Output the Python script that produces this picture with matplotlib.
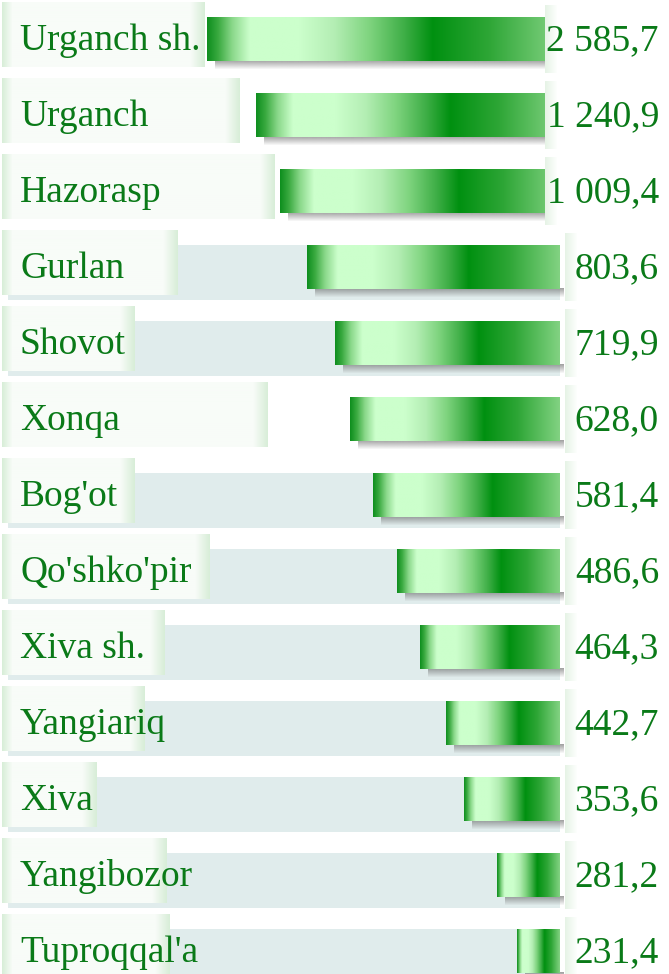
import numpy as np
import matplotlib.pyplot as plt
from matplotlib.colors import LinearSegmentedColormap, to_rgb

# data
districts = ["Urganch sh.", "Urganch", "Hazorasp", "Gurlan", "Shovot", "Xonqa", "Bog'ot",
             "Qo'shko'pir", "Xiva sh.", "Yangiariq", "Xiva", "Yangibozor", "Tuproqqal'a"]
values = [2585.7, 1240.9, 1009.4, 803.6, 719.9, 628.0, 581.4,
          486.6, 464.3, 442.7, 353.6, 281.2, 231.4]
# drawn bar lengths (infographic is not to scale)
bar_len = [353, 304, 280, 253, 225, 210, 187, 163, 140, 114, 96, 63, 43]
has_strip = [False, False, False, True, True, False, True, True, True, True, True, True, True]

# layout (pixel-like units)
W, H = 669, 974
row_top0, row_step = 17, 76
bar_h = 44
bar_right = 560
label_box_right = [205, 240, 275, 178, 135, 268, 135, 210, 165, 145, 97, 167, 170]

TXT = "#0a7a18"
STRIP = "#e0ecec"

grad = LinearSegmentedColormap.from_list("bar", [
    (0.00, "#0f8f1f"), (0.03, "#3aaa40"), (0.07, "#8ad88a"), (0.12, "#ccffcc"),
    (0.26, "#ccffcc"), (0.36, "#b4eeb4"), (0.46, "#7fd47f"), (0.56, "#3eae46"),
    (0.64, "#009010"), (0.80, "#2ea636"), (1.00, "#82d282")])

fig = plt.figure(figsize=(W / 100, H / 100), dpi=100)
ax = fig.add_axes([0, 0, 1, 1])
ax.set_xlim(0, W)
ax.set_ylim(H, 0)
ax.axis("off")


def soft_box(x0, x1, y0, y1, fill, edge, el=10, er=14, z=2):
    n = max(int(x1 - x0), 2)
    xs = np.arange(n)
    t = np.ones(n)
    t = np.minimum(t, np.clip(xs / el, 0, 1))
    t = np.minimum(t, np.clip((n - 1 - xs) / er, 0, 1))
    f, e = np.array(to_rgb(fill)), np.array(to_rgb(edge))
    img = e[None, :] * (1 - t[:, None]) + f[None, :] * t[:, None]
    ax.imshow(img[None, :, :], extent=(x0, x1, y1, y0), aspect="auto",
              interpolation="bilinear", zorder=z)


for i, (name, val, L) in enumerate(zip(districts, values, bar_len)):
    top = row_top0 + i * row_step
    yc = top + bar_h / 2
    if has_strip[i]:
        ax.add_patch(plt.Rectangle((8, top), bar_right - 8, 55, color=STRIP, lw=0, zorder=1))
    # label box
    soft_box(2, label_box_right[i], top - 15, top + 50, "#f8fcf8", "#d8eed8", z=2)
    # shadow
    sh = np.linspace(0.6, 0, 10)
    shimg = np.zeros((10, 1, 4))
    shimg[:, 0, :3] = 0.4
    shimg[:, 0, 3] = sh
    ax.imshow(shimg, extent=(bar_right - L + 8, bar_right + 4, top + bar_h + 9, top + bar_h - 1),
              aspect="auto", interpolation="bilinear", zorder=3)
    # bar
    g = np.linspace(0, 1, 256)[None, :]
    ax.imshow(g, cmap=grad, extent=(bar_right - L, bar_right, top + bar_h, top),
              aspect="auto", interpolation="bilinear", zorder=4)
    # value box
    vx = 545 if val >= 1000 else 565
    soft_box(vx, W + 20, top - 12, top + 56, "#ffffff", "#e6f3e6", el=12, er=1, z=5)

    ax.text(20, yc + 2, name, fontsize=27, family="Liberation Serif", color=TXT,
            ha="left", va="center", zorder=6)
    s = f"{val:,.1f}".replace(",", " ").replace(".", ",")
    ax.text(659, yc + 2, s, fontsize=27, family="Liberation Serif", color=TXT,
            ha="right", va="center", zorder=6)

fig.savefig("out.png", dpi=100)
